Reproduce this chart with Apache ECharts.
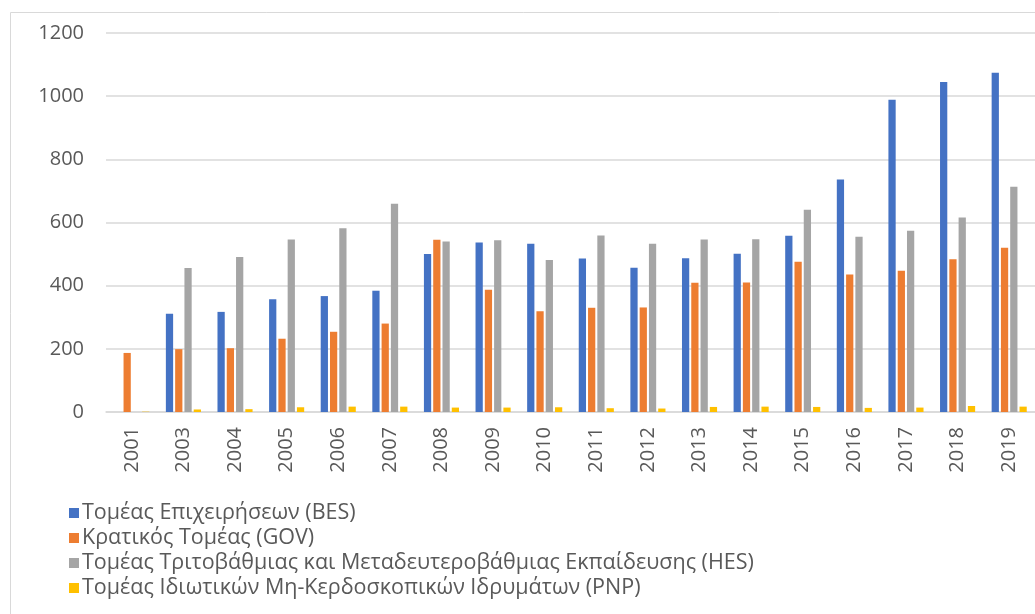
<!DOCTYPE html>
<html>
<head>
<meta charset="utf-8">
<script src="https://cdn.jsdelivr.net/npm/echarts@6/dist/echarts.min.js"></script>
<style>
  html, body { margin: 0; padding: 0; background: #ffffff; }
  #chart { width: 1035px; height: 614px; }
</style>
</head>
<body>
<div id="chart"></div>
<script>
const years = ['2001','2003','2004','2005','2006','2007','2008','2009','2010','2011','2012','2013','2014','2015','2016','2017','2018','2019'];
const seriesNames = [
  'Τομέας Επιχειρήσεων (BES)',
  'Κρατικός Τομέας (GOV)',
  'Τομέας Τριτοβάθμιας και Μεταδευτεροβάθμιας Εκπαίδευσης (HES)',
  'Τομέας Ιδιωτικών Μη-Κερδοσκοπικών Ιδρυμάτων (PNP)'
];
const bes = [null, 311, 317, 357, 367, 384, 500, 537, 533, 486, 457, 487, 501, 558, 736, 989, 1045, 1074];
const gov = [187, 199, 202, 232, 254, 280, 545, 387, 319, 330, 331, 409, 410, 476, 435, 447, 484, 520];
const hes = [null, 456, 491, 546, 582, 659, 540, 544, 481, 559, 533, 546, 547, 640, 555, 574, 616, 713];
const pnp = [1, 8, 9, 15, 17, 17, 14, 14, 15, 12, 11, 16, 17, 16, 13, 14, 19, 17];
const yTicks = { min: 0, max: 1200, interval: 200 };

const colors = ['#4472C4', '#ED7D31', '#A5A5A5', '#FFC000'];
const font = '"Open Sans", "Noto Sans", sans-serif';
const textColor = '#595959';

const chart = echarts.init(document.getElementById('chart'), null, { renderer: 'canvas' });
const values = [bes, gov, hes, pnp];
chart.setOption({
  animation: false,
  color: colors,
  textStyle: { fontFamily: font },
  graphic: [{
    type: 'rect',
    shape: { x: 10.5, y: 12.5, width: 1040, height: 620 },
    style: { fill: 'none', stroke: '#D9D9D9', lineWidth: 1 },
    silent: true
  }],
  grid: { left: 106, right: 0, top: 33, bottom: 202, containLabel: false },
  legend: {
    orient: 'vertical',
    left: 64,
    top: 497,
    itemWidth: 10,
    itemHeight: 10,
    itemGap: 3,
    icon: 'rect',
    textStyle: { fontFamily: font, fontSize: 21.5, lineHeight: 21, color: textColor, padding: [0, 0, 0, -2] },
    data: seriesNames
  },
  xAxis: {
    type: 'category',
    data: years,
    axisLine: { show: true, lineStyle: { color: '#D9D9D9', width: 1.5 } },
    axisTick: { show: false },
    axisLabel: { rotate: 90, fontSize: 20, color: textColor, margin: 15, fontFamily: font }
  },
  yAxis: {
    type: 'value',
    min: yTicks.min,
    max: yTicks.max,
    interval: yTicks.interval,
    axisLine: { show: false },
    axisTick: { show: false },
    axisLabel: { fontSize: 20, color: textColor, margin: 22, fontFamily: font, formatter: v => String(v) },
    splitLine: { lineStyle: { color: '#D9D9D9', width: 1.5 } }
  },
  series: seriesNames.map((name, i) => ({
    name: name,
    type: 'bar',
    data: values[i],
    barGap: '28%',
    barCategoryGap: '32%',
    itemStyle: { color: colors[i] }
  }))
});
</script>
</body>
</html>
